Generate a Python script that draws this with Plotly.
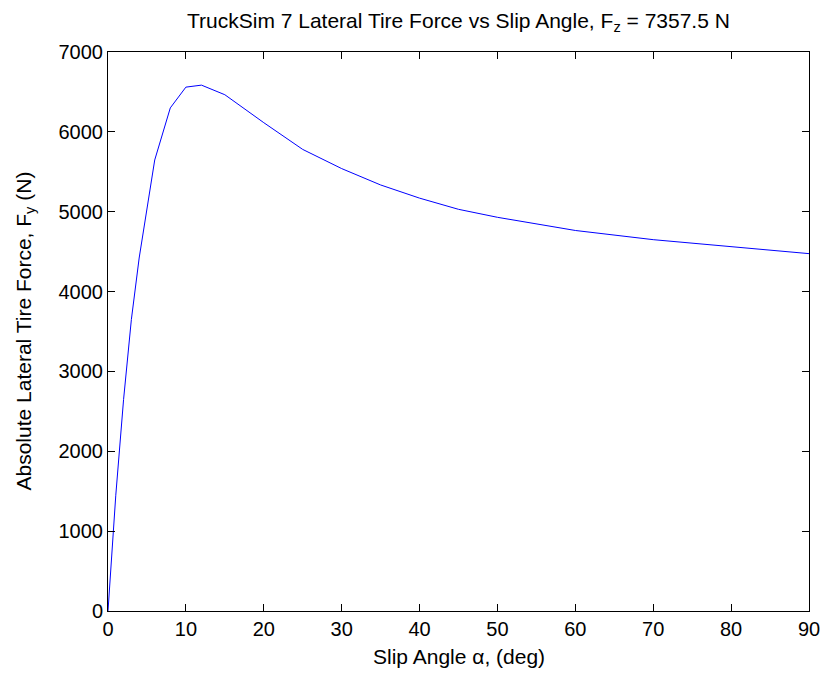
import plotly.graph_objects as go

# Slip angle (deg) and absolute lateral tire force (N) at Fz = 7357.5 N
slip_angle_deg = [0, 1, 2, 3, 4, 6, 8, 10, 12, 15, 20, 25, 30, 35, 40, 45, 50, 60, 70, 80, 90]
lateral_force_n = [0, 1450, 2650, 3650, 4420, 5648, 6300, 6560, 6585, 6465, 6115, 5780,
                   5540, 5335, 5170, 5030, 4930, 4765, 4650, 4560, 4475]

x_ticks = [0, 10, 20, 30, 40, 50, 60, 70, 80, 90]
y_ticks = [0, 1000, 2000, 3000, 4000, 5000, 6000, 7000]

FONT = "Liberation Sans, Arial, Helvetica, sans-serif"
TICK_SIZE = 20
LABEL_SIZE = 21

fig = go.Figure()
fig.add_trace(go.Scatter(
    x=slip_angle_deg, y=lateral_force_n, mode="lines",
    line=dict(color="#0000FF", width=1), showlegend=False,
))

axis_common = dict(
    showgrid=False, zeroline=False, showline=True, linecolor="black", linewidth=1,
    mirror="ticks", ticks="inside", ticklen=7, tickcolor="black", tickwidth=1,
    tickfont=dict(family=FONT, size=TICK_SIZE, color="black"),
)

fig.update_xaxes(range=[0, 90], tickvals=x_ticks, ticktext=[str(v) for v in x_ticks],
                 **axis_common)
fig.update_yaxes(range=[0, 7000], tickvals=y_ticks, ticktext=[str(v) for v in y_ticks],
                 **axis_common)

fig.update_layout(
    width=832, height=673,
    margin=dict(l=108, r=14, t=52, b=62),
    paper_bgcolor="white", plot_bgcolor="white",
    font=dict(family=FONT, size=TICK_SIZE, color="black"),
    showlegend=False,
)

# Title and axis labels
fig.add_annotation(
    text="TruckSim 7 Lateral Tire Force vs Slip Angle, F<sub>z</sub> = 7357.5 N",
    xref="paper", yref="paper", x=0.5, y=1, yshift=30, xanchor="center", yanchor="middle",
    showarrow=False, font=dict(family=FONT, size=LABEL_SIZE, color="black"),
)
fig.add_annotation(
    text="Slip Angle α, (deg)",
    xref="paper", yref="paper", x=0.5, y=0, yshift=-45, xanchor="center", yanchor="middle",
    showarrow=False, font=dict(family=FONT, size=LABEL_SIZE, color="black"),
)
fig.add_annotation(
    text="Absolute Lateral Tire Force, F<sub>y</sub> (N)",
    xref="paper", yref="paper", x=0, y=0.5, xshift=-84, xanchor="center", yanchor="middle",
    textangle=-90, showarrow=False, font=dict(family=FONT, size=LABEL_SIZE, color="black"),
)

fig.write_html("out.html")
